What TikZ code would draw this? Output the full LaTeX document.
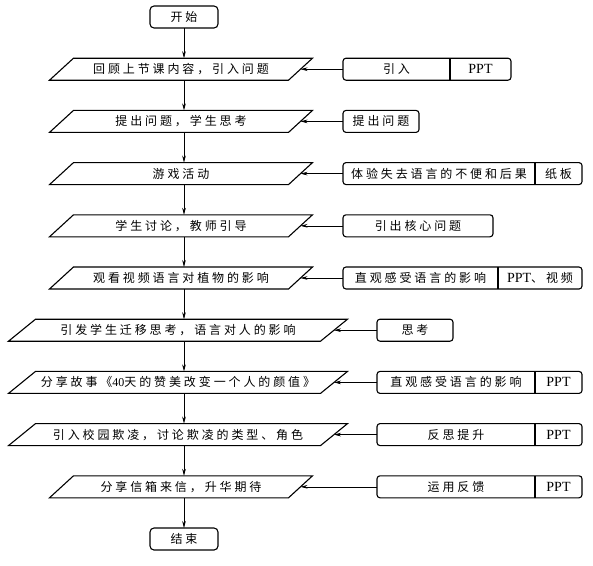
\documentclass[tikz,border=0pt]{standalone}
\usepackage{fontspec}
\setmainfont{Liberation Serif}
\newfontfamily\cjk[LetterSpace=24]{Noto Sans CJK SC}
\usetikzlibrary{arrows.meta}
\newcommand\latw[1]{{\fontsize{14}{16}\selectfont\rmfamily #1}}
\begin{document}
\begin{tikzpicture}[x=1pt,y=-1pt,
 base/.style={font=\fontsize{12}{14}\selectfont\cjk, inner sep=0pt, outer sep=0pt, line width=1.1pt},
 term/.style={base, draw, rounded corners=4pt, minimum width=68pt, minimum height=22pt},
 para/.style={base, minimum height=22pt},
 narrow/.style={para, minimum width=239pt},
 wide/.style={para, minimum width=312pt},
 pline/.style={line width=1.1pt, line join=miter},
 cell/.style={base, minimum height=22pt, anchor=west},
 rbox/.style={cell, draw, rounded corners=3pt},
 frame/.style={line width=1.1pt, rounded corners=3pt},
 divider/.style={line width=1.1pt},
 arr/.style={line width=0.6pt, -{Stealth[length=7pt,width=3.6pt]}}
]
\useasboundingbox (0,0) rectangle (593,565);

% main column
\node[term] (start) at (184,17) {开始};
\node[narrow] (p1) at (181,69.2) {回顾上节课内容，引入问题};
\node[narrow] (p2) at (181,121.4) {提出问题，学生思考};
\node[narrow] (p3) at (181,173.6) {游戏活动};
\node[narrow] (p4) at (181,225.8) {学生讨论，教师引导};
\node[narrow] (p5) at (181,278) {观看视频语言对植物的影响};
\node[wide] (p6) at (178,330.2) {引发学生迁移思考，语言对人的影响};
\node[wide] (p7) at (178,382.4) {分享故事《{\rmfamily 40}天的赞美改变一个人的颜值》};
\node[wide] (p8) at (178,434.6) {引入校园欺凌，讨论欺凌的类型、角色};
\node[narrow] (p9) at (181,486.8) {分享信箱来信，升华期待};
\node[term] (end) at (184,539) {结束};

\foreach \n/\s in {p1/12,p2/12,p3/12,p4/12,p5/12,p6/13.5,p7/13.5,p8/13.5,p9/12}
  \draw[pline] ([xshift=-\s pt]\n.south west) -- ([xshift=\s pt]\n.north west)
     -- ([xshift=\s pt]\n.north east) -- ([xshift=-\s pt]\n.south east) -- cycle;

\draw[arr] (start) -- (start |- p1.north);
\draw[arr] (start |- p1.south) -- (start |- p2.north);
\draw[arr] (start |- p2.south) -- (start |- p3.north);
\draw[arr] (start |- p3.south) -- (start |- p4.north);
\draw[arr] (start |- p4.south) -- (start |- p5.north);
\draw[arr] (start |- p5.south) -- (start |- p6.north);
\draw[arr] (start |- p6.south) -- (start |- p7.north);
\draw[arr] (start |- p7.south) -- (start |- p8.north);
\draw[arr] (start |- p8.south) -- (start |- p9.north);
\draw[arr] (start |- p9.south) -- (end);

% side boxes
\node[cell, minimum width=107pt] (r1a) at (343,69.2) {引入};
\node[cell, minimum width=61pt] (r1b) at (r1a.east) {\latw{PPT}};
\draw[frame] (r1a.south west) rectangle (r1b.north east);
\draw[divider] (r1a.north east) -- (r1a.south east);

\node[rbox, minimum width=76pt] (r2a) at (343,121.4) {提出问题};

\node[cell, minimum width=192pt] (r3a) at (343,173.6) {体验失去语言的不便和后果};
\node[cell, minimum width=47pt] (r3b) at (r3a.east) {纸板};
\draw[frame] (r3a.south west) rectangle (r3b.north east);
\draw[divider] (r3a.north east) -- (r3a.south east);

\node[rbox, minimum width=150pt] (r4a) at (343,225.8) {引出核心问题};

\node[cell, minimum width=155pt] (r5a) at (343,278) {直观感受语言的影响};
\node[cell, minimum width=84pt] (r5b) at (r5a.east) {\latw{PPT}、视频};
\draw[frame] (r5a.south west) rectangle (r5b.north east);
\draw[divider] (r5a.north east) -- (r5a.south east);

\node[rbox, minimum width=76pt] (r6a) at (377,330.2) {思考};

\node[cell, minimum width=158pt] (r7a) at (377,382.4) {直观感受语言的影响};
\node[cell, minimum width=47pt] (r7b) at (r7a.east) {\latw{PPT}};
\draw[frame] (r7a.south west) rectangle (r7b.north east);
\draw[divider] (r7a.north east) -- (r7a.south east);

\node[cell, minimum width=158pt] (r8a) at (377,434.6) {反思提升};
\node[cell, minimum width=47pt] (r8b) at (r8a.east) {\latw{PPT}};
\draw[frame] (r8a.south west) rectangle (r8b.north east);
\draw[divider] (r8a.north east) -- (r8a.south east);

\node[cell, minimum width=158pt] (r9a) at (377,486.8) {运用反馈};
\node[cell, minimum width=47pt] (r9b) at (r9a.east) {\latw{PPT}};
\draw[frame] (r9a.south west) rectangle (r9b.north east);
\draw[divider] (r9a.north east) -- (r9a.south east);

\draw[arr] (r1a.west) -- (p1.east);
\draw[arr] (r2a.west) -- (p2.east);
\draw[arr] (r3a.west) -- (p3.east);
\draw[arr] (r4a.west) -- (p4.east);
\draw[arr] (r5a.west) -- (p5.east);
\draw[arr] (r6a.west) -- (p6.east);
\draw[arr] (r7a.west) -- (p7.east);
\draw[arr] (r8a.west) -- (p8.east);
\draw[arr] (r9a.west) -- (p9.east);
\end{tikzpicture}
\end{document}
